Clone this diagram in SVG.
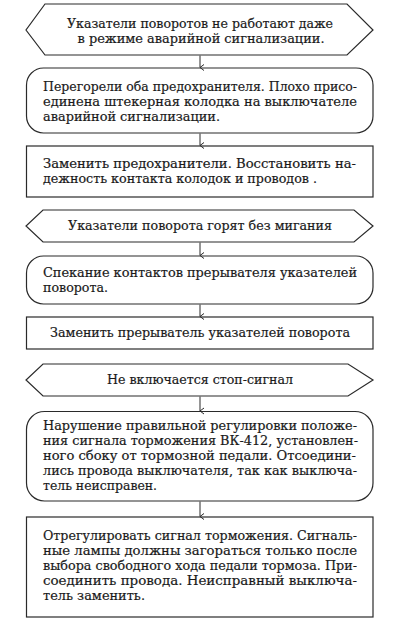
<svg xmlns="http://www.w3.org/2000/svg" width="400" height="622" viewBox="0 0 400 622">
<style>
.s{fill:#fff;stroke:#2a2a2a;stroke-width:1.2}
.t{font-family:"DejaVu Serif","Liberation Serif",serif;font-size:13px;fill:#1a1a1a;stroke:#1a1a1a;stroke-width:0.2}
.c{text-anchor:middle}
.e{stroke:#2a2a2a;stroke-width:1;fill:none}
</style>
<defs>
<marker id="ah" viewBox="0 0 8 8" refX="4" refY="7" markerWidth="8" markerHeight="8" markerUnits="userSpaceOnUse" orient="auto-start-reverse">
<path d="M1,3 L4,7 L7,3" fill="none" stroke="#2a2a2a" stroke-width="1"/>
</marker>
</defs>
<g id="n1">
<polygon class="s" points="45,4 347,4 373,30 347,55 45,55 26,30"/>
<text class="t c" x="200" y="28" textLength="266" lengthAdjust="spacingAndGlyphs">Указатели поворотов не работают даже</text>
<text class="t c" x="201" y="43" textLength="247" lengthAdjust="spacingAndGlyphs">в режиме аварийной сигнализации.</text>
</g>
<g id="n2">
<rect class="s" x="26.5" y="68" width="346.5" height="65" rx="17" ry="17"/>
<text class="t" x="43" y="91" textLength="314" lengthAdjust="spacingAndGlyphs">Перегорели оба предохранителя. Плохо присо-</text>
<text class="t" x="43" y="106" textLength="314" lengthAdjust="spacingAndGlyphs">единена штекерная колодка на выключателе</text>
<text class="t" x="43" y="121" textLength="177" lengthAdjust="spacingAndGlyphs">аварийной сигнализации.</text>
</g>
<g id="n3">
<rect class="s" x="26.5" y="146" width="346.5" height="51"/>
<text class="t" x="43" y="168" textLength="313" lengthAdjust="spacingAndGlyphs">Заменить предохранители. Восстановить на-</text>
<text class="t" x="43" y="183" textLength="274" lengthAdjust="spacingAndGlyphs">дежность контакта колодок и проводов .</text>
</g>
<g id="n4">
<polygon class="s" points="43,210 354,210 373,226 354,242 43,242 26,226"/>
<text class="t c" x="200" y="230" textLength="264" lengthAdjust="spacingAndGlyphs">Указатели поворота горят без мигания</text>
</g>
<g id="n5">
<rect class="s" x="26.5" y="256" width="346.5" height="48" rx="17" ry="17"/>
<text class="t" x="43" y="277" textLength="314" lengthAdjust="spacingAndGlyphs">Спекание контактов прерывателя указателей</text>
<text class="t" x="43" y="292" textLength="65" lengthAdjust="spacingAndGlyphs">поворота.</text>
</g>
<g id="n6">
<rect class="s" x="26.5" y="317" width="346.5" height="32"/>
<text class="t c" x="200" y="337" textLength="300" lengthAdjust="spacingAndGlyphs">Заменить прерыватель указателей поворота</text>
</g>
<g id="n7">
<polygon class="s" points="43,364 348,364 373,380 348,396 43,396 26,380"/>
<text class="t c" x="200" y="384" textLength="186" lengthAdjust="spacingAndGlyphs">Не включается стоп-сигнал</text>
</g>
<g id="n8">
<rect class="s" x="26.5" y="411.5" width="346.5" height="89.5" rx="18" ry="18"/>
<text class="t" x="43" y="430" textLength="314" lengthAdjust="spacingAndGlyphs">Нарушение правильной регулировки положе-</text>
<text class="t" x="43" y="445" textLength="315" lengthAdjust="spacingAndGlyphs">ния сигнала торможения ВК-412, установлен-</text>
<text class="t" x="43" y="460" textLength="313" lengthAdjust="spacingAndGlyphs">ного сбоку от тормозной педали. Отсоедини-</text>
<text class="t" x="43" y="475" textLength="314" lengthAdjust="spacingAndGlyphs">лись провода выключателя, так как выключа-</text>
<text class="t" x="43" y="490" textLength="114" lengthAdjust="spacingAndGlyphs">тель неисправен.</text>
</g>
<g id="n9">
<rect class="s" x="26.5" y="517" width="346.5" height="100"/>
<text class="t" x="43" y="540" textLength="314" lengthAdjust="spacingAndGlyphs">Отрегулировать сигнал торможения. Сигналь-</text>
<text class="t" x="43" y="555" textLength="314" lengthAdjust="spacingAndGlyphs">ные лампы должны загораться только после</text>
<text class="t" x="43" y="570" textLength="314" lengthAdjust="spacingAndGlyphs">выбора свободного хода педали тормоза. При-</text>
<text class="t" x="43" y="585" textLength="314" lengthAdjust="spacingAndGlyphs">соединить провода. Неисправный выключа-</text>
<text class="t" x="43" y="600" textLength="102" lengthAdjust="spacingAndGlyphs">тель заменить.</text>
</g>
<g id="edges">
<line class="e" x1="200" y1="55.6" x2="200" y2="67.5" marker-end="url(#ah)"/>
<line class="e" x1="200" y1="133.6" x2="200" y2="145.5" marker-end="url(#ah)"/>
<line class="e" x1="200" y1="242.6" x2="200" y2="255.5" marker-end="url(#ah)"/>
<line class="e" x1="200" y1="304.6" x2="200" y2="316.5" marker-end="url(#ah)"/>
<line class="e" x1="200" y1="396.6" x2="200" y2="411" marker-end="url(#ah)"/>
<line class="e" x1="200" y1="501.6" x2="200" y2="516.5" marker-end="url(#ah)"/>
</g>
</svg>
